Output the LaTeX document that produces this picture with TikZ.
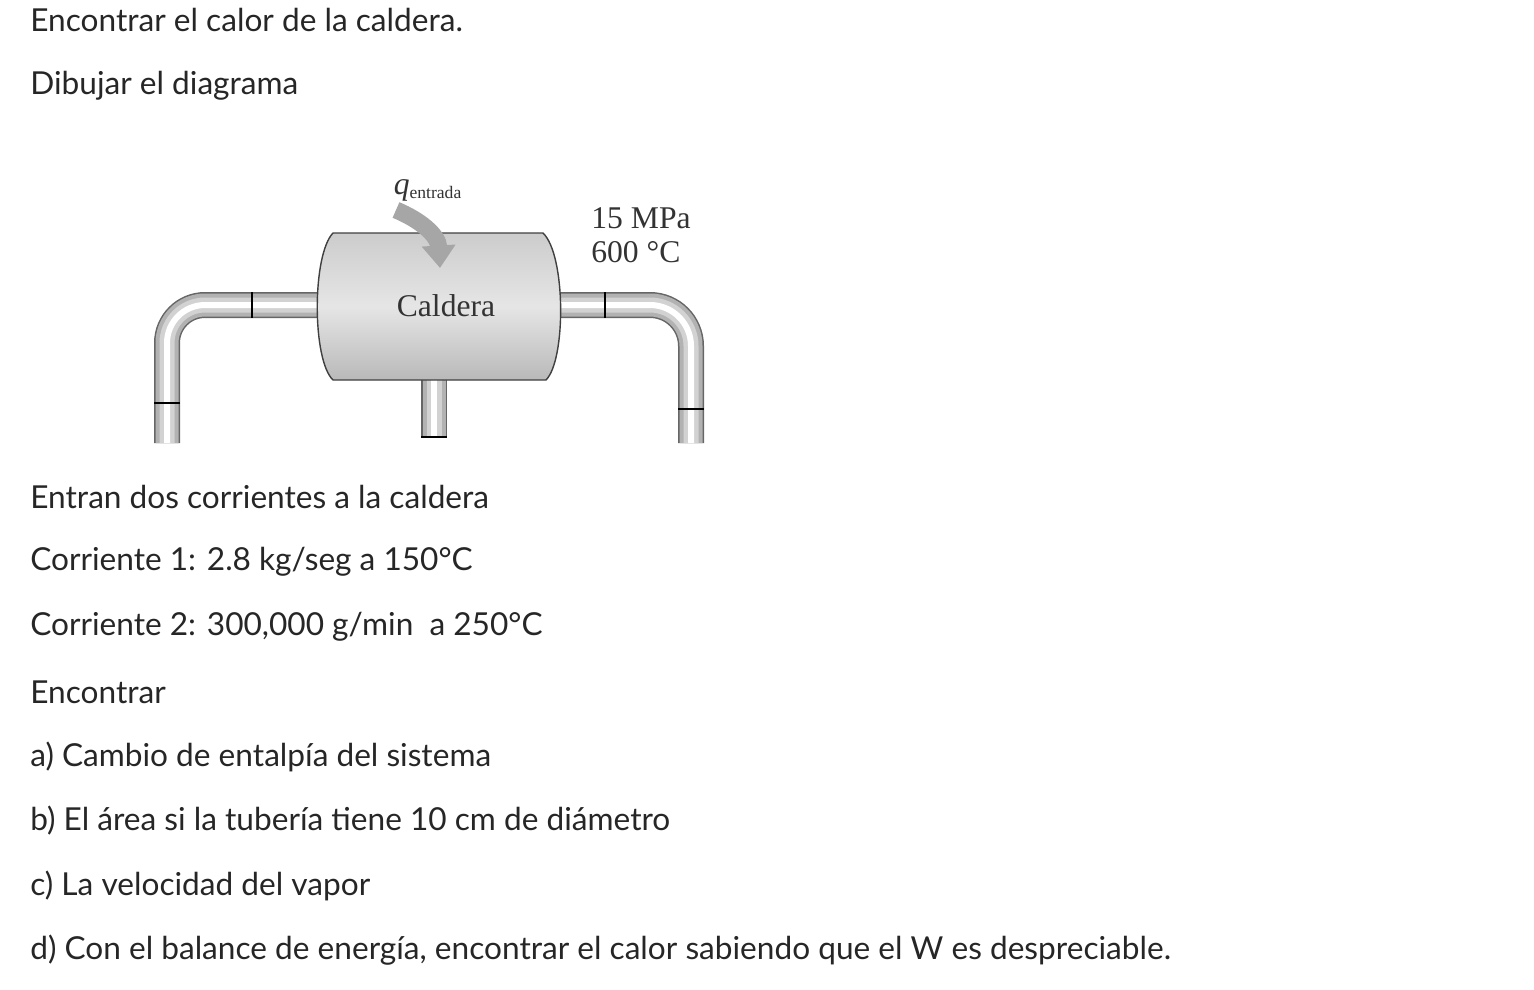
\documentclass[tikz,border=0pt]{standalone}
\usepackage{fontspec}
\setmainfont{Lato}
\newfontfamily\serifd{Liberation Serif}
\usetikzlibrary{arrows.meta}
\begin{document}
\begin{tikzpicture}[x={(0.02cm,0)},y={(0,-0.02cm)},
  txt/.style={anchor=west,inner sep=0,font=\fontsize{18}{21}\selectfont,text=black!85},
  lab/.style={inner sep=0,font=\serifd\fontsize{18}{20}\selectfont,text=black!80},
  pipeA/.style={line width=0.52cm,black!60},
  pipeB/.style={line width=0.46cm,gray!60},
  pipeC/.style={line width=0.30cm,gray!35},
  pipeD/.style={line width=0.12cm,white},
  ring/.style={line width=1.6pt,black}]
\useasboundingbox (0,0) rectangle (1534,990);
% texts
\node[txt] (t1) at (30,20) {Encontrar el calor de la caldera.};
\node[txt] (t2) at (30,86) {Dibujar el diagrama};
\node[txt] (t3) at (30,497) {Entran dos corrientes a la caldera};
\node[txt] (t4) at (30,562) {Corriente 1: 2.8 kg/seg a 150°C};
\node[txt] (t5) at (30,627) {Corriente 2: 300,000 g/min\ \ a 250°C};
\node[txt] (t6) at (30,692) {Encontrar};
\node[txt] (t7) at (30,757) {a) Cambio de entalpía del sistema};
\node[txt] (t8) at (30,821) {b) El área si la tubería tiene 10 cm de diámetro};
\node[txt] (t9) at (30,886) {c) La velocidad del vapor};
\node[txt] (t10) at (30,950) {d) Con el balance de energía, encontrar el calor sabiendo que el W es despreciable.};
% pipes
\foreach \s in {pipeA,pipeB,pipeC,pipeD}{
  \draw[\s] (322,305) -- (205,305) arc[start angle=-90,end angle=-180,radius=38] -- (167,443);
  \draw[\s] (556,305) -- (650,305) arc[start angle=-90,end angle=0,radius=41] -- (691,443);
  \draw[\s] (434,370) -- (434,438);
}
\draw[ring] (252,292) -- (252,318);
\draw[ring] (605,292) -- (605,318);
\draw[ring] (154,403) -- (180,403);
\draw[ring] (678,409) -- (704,409);
\draw[ring] (421,437) -- (447,437);
% vessel
\path[draw=black!75,line width=0.8pt,top color=gray!40,bottom color=gray!55,middle color=gray!20]
  (333,233) -- (543,233) .. controls (566,255) and (566,360) .. (546,380)
  -- (333,380) .. controls (312,360) and (312,255) .. (333,233) -- cycle;
\node[lab] (cal) at (446,306) {Caldera};
% heat arrow
\coordinate (qa) at (396,210);
\coordinate (qb) at (440,268);
\draw[line width=0.34cm,gray!70,-{Triangle[length=0.45cm,width=0.65cm]}] (qa) .. controls (420,220) and (438,235) .. (qb);
\node[lab] (q) at (428,190) {\itshape q\textsubscript{\upshape\fontsize{10}{11}\selectfont entrada}};
\node[lab,anchor=west] (p) at (591,218) {15 MPa};
\node[lab,anchor=west] (t) at (591,252) {600 °C};
\end{tikzpicture}
\end{document}
